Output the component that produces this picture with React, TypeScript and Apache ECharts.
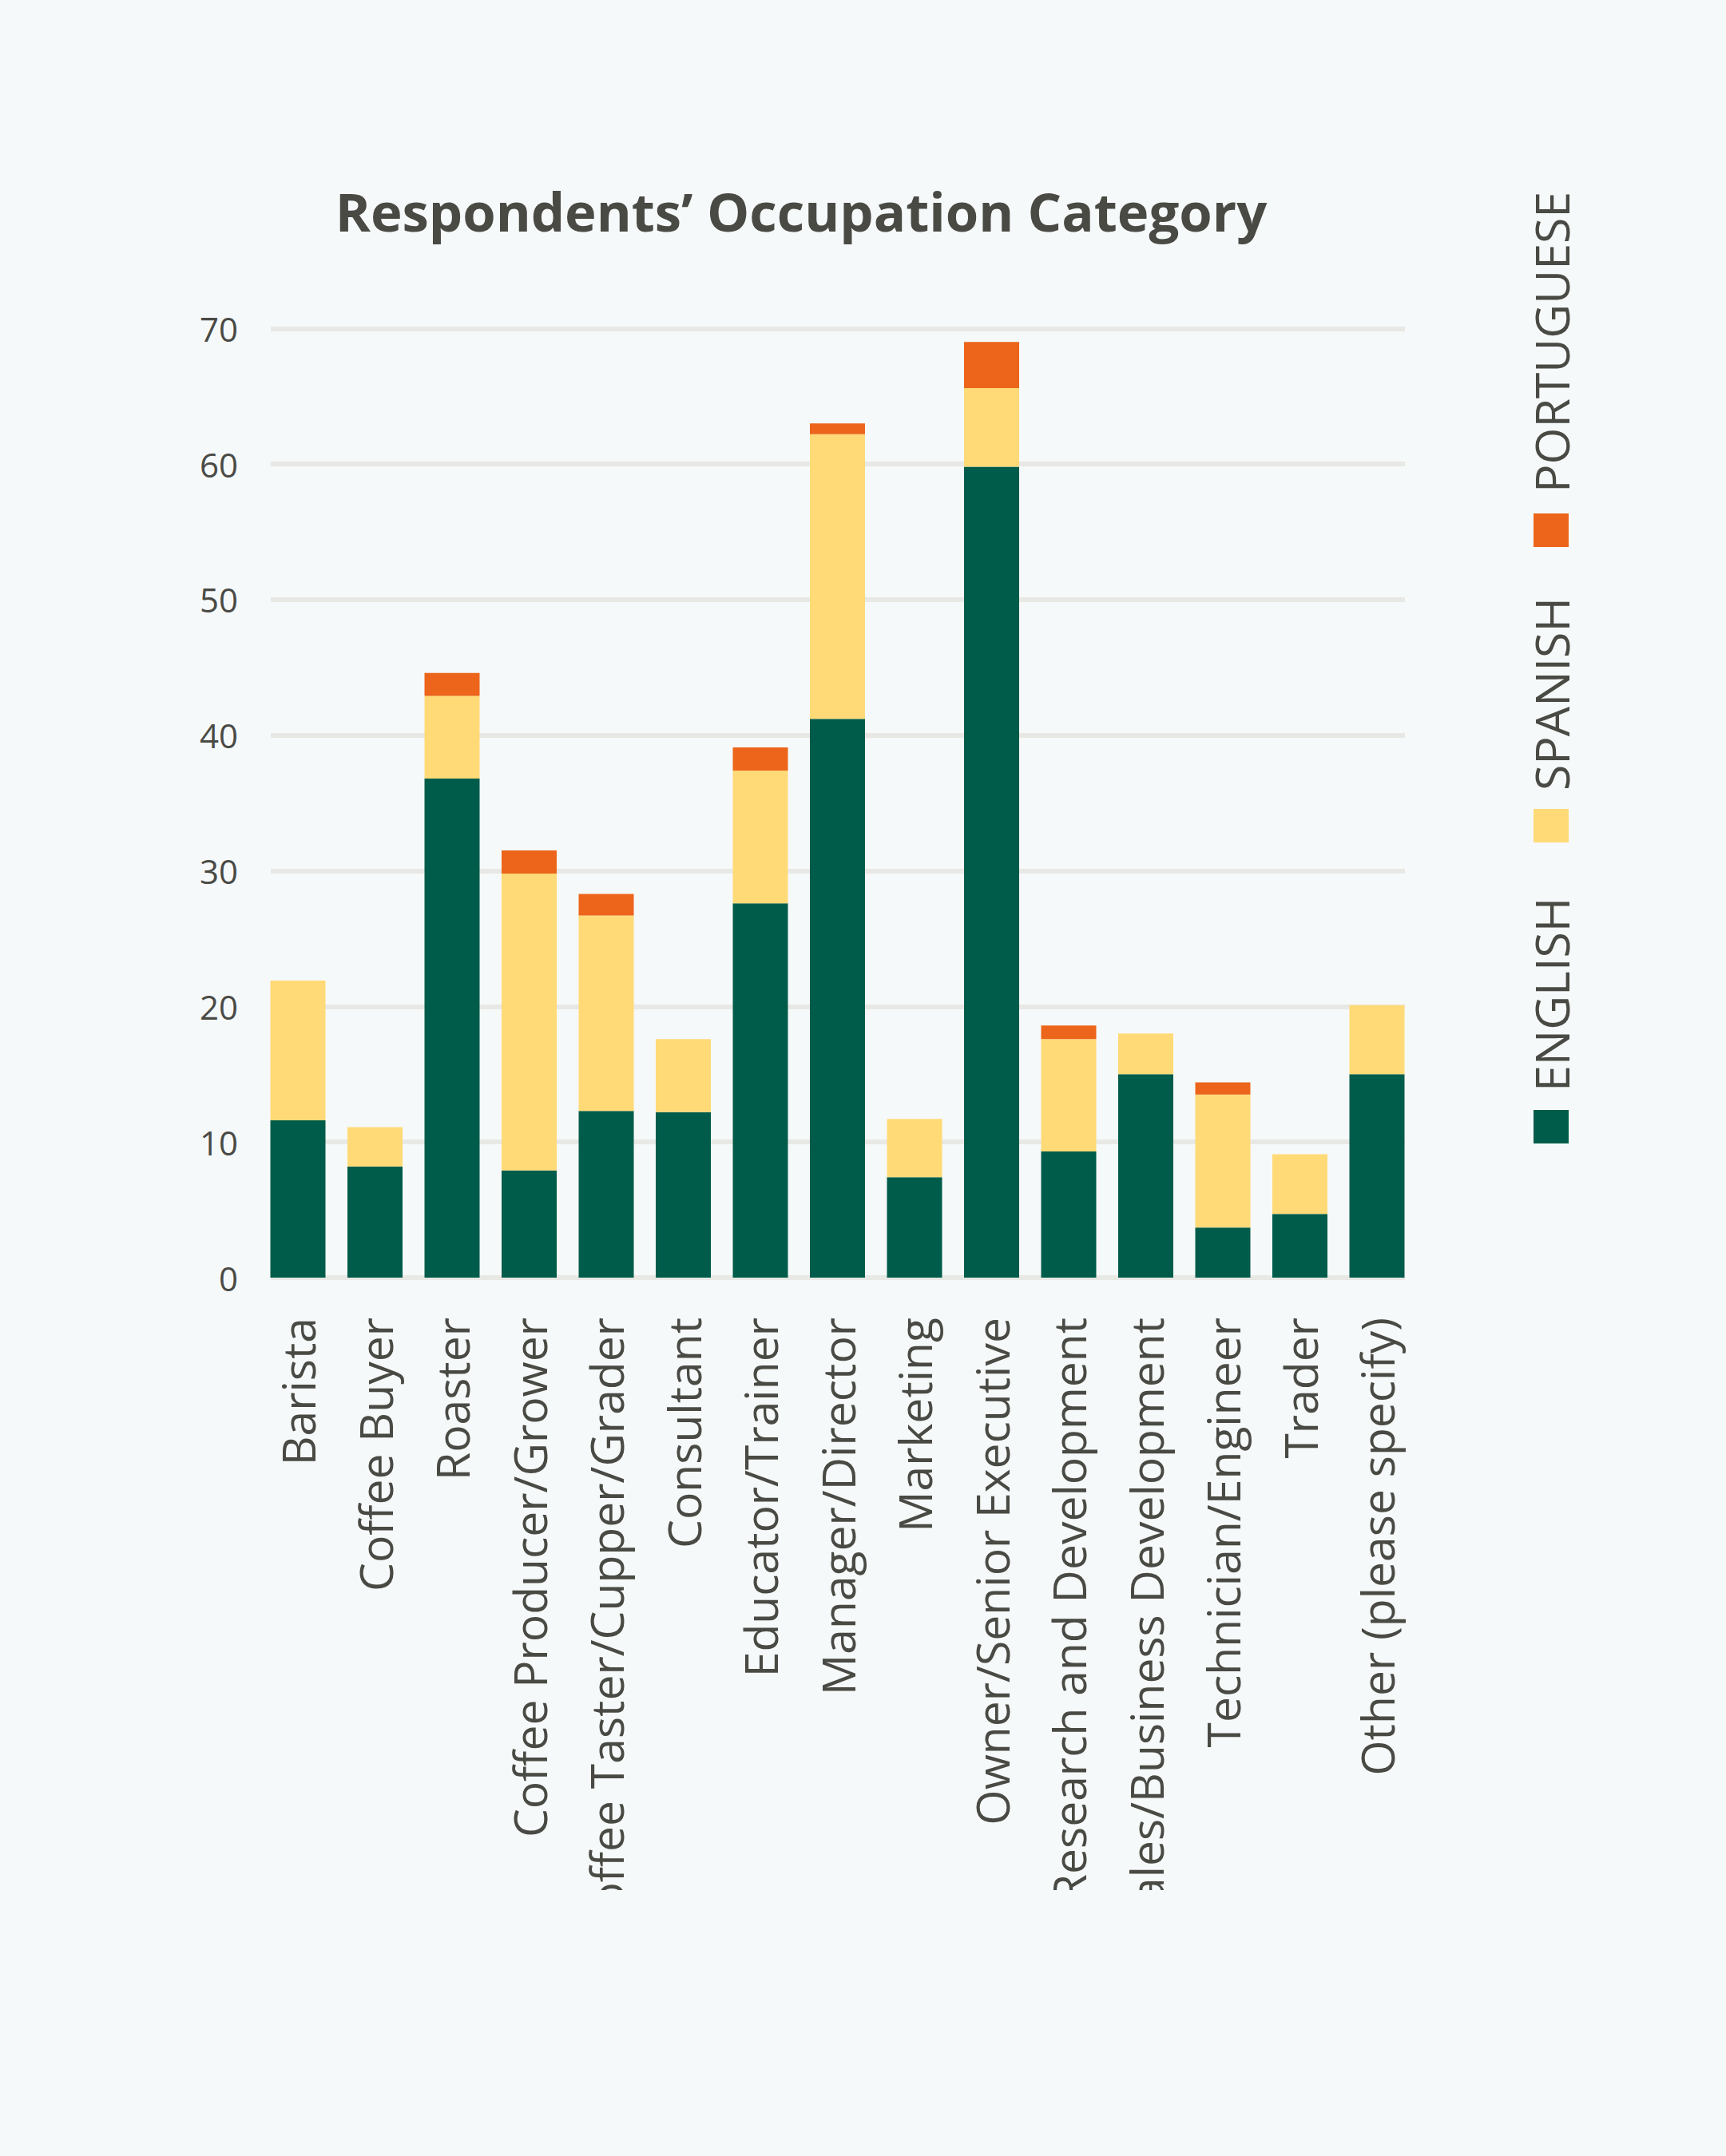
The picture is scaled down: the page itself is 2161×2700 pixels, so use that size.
import React, { useEffect, useRef } from "react";
import * as echarts from "echarts";

const categories = [
  "Barista",
  "Coffee Buyer",
  "Roaster",
  "Coffee Producer/Grower",
  "Coffee Taster/Cupper/Grader",
  "Consultant",
  "Educator/Trainer",
  "Manager/Director",
  "Marketing",
  "Owner/Senior Executive",
  "Research and Development",
  "Sales/Business Development",
  "Technician/Engineer",
  "Trader",
  "Other (please specify)",
];

const english = [11.6, 8.2, 36.8, 7.9, 12.3, 12.2, 27.6, 41.2, 7.4, 59.8, 9.3, 15.0, 3.7, 4.7, 15.0];
const spanish = [10.3, 2.9, 6.1, 21.9, 14.4, 5.4, 9.8, 21.0, 4.3, 5.8, 8.3, 3.0, 9.8, 4.4, 5.1];
const portuguese = [0, 0, 1.7, 1.7, 1.6, 0, 1.7, 0.8, 0, 3.4, 1.0, 0, 0.9, 0, 0];

const seriesNames = ["ENGLISH", "SPANISH", "PORTUGUESE"];
const seriesColors = ["#005c4a", "#ffda77", "#ec651b"];

const yMin = 0;
const yMax = 70;
const yInterval = 10;

const BG = "#f6f9f9";
const TEXT = "#4a4a45";
const FONT = "'Open Sans', sans-serif";

export default function App() {
  const ref = useRef<HTMLDivElement>(null);

  useEffect(() => {
    if (!ref.current) return;
    const chart = echarts.init(ref.current, null, { renderer: "svg" });

    const plotTop = 411.3;
    const plotBottom = 1600;
    const plotH = plotBottom - plotTop;

    // legend (rotated, reading bottom to top)
    const legendItems = [
      { name: seriesNames[0], color: seriesColors[0], swatchY: 1390, textY: 1367 },
      { name: seriesNames[1], color: seriesColors[1], swatchY: 1013, textY: 990 },
      { name: seriesNames[2], color: seriesColors[2], swatchY: 643, textY: 617 },
    ];
    const graphic: any[] = [];
    legendItems.forEach((it) => {
      graphic.push({
        type: "rect",
        shape: { x: 1920, y: it.swatchY, width: 44, height: 42 },
        style: { fill: it.color },
      });
      graphic.push({
        type: "text",
        x: 1942,
        y: it.textY,
        rotation: Math.PI / 2,
        style: {
          text: it.name,
          fill: TEXT,
          font: `400 59px ${FONT}`,
          textAlign: "left",
          textVerticalAlign: "middle",
        },
      });
    });

    const option: any = {
      animation: false,
      backgroundColor: BG,
      title: {
        text: "Respondents’ Occupation Category",
        left: 998,
        top: 225,
        textAlign: "center",
        textStyle: {
          fontFamily: FONT,
          fontWeight: 700,
          fontSize: 67,
          color: TEXT,
        },
      },
      grid: [
        {
          left: 324.75,
          width: 1447.5,
          top: plotTop,
          height: plotH,
          containLabel: false,
          outerBoundsMode: "none",
        },
        {
          left: 339,
          width: 1420,
          top: plotTop,
          height: plotH,
          containLabel: false,
          outerBoundsMode: "none",
        },
      ],
      xAxis: [
        {
          type: "category",
          gridIndex: 0,
          data: categories,
          boundaryGap: true,
          axisLine: { show: false },
          axisTick: { show: false },
          axisLabel: {
            rotate: 90,
            margin: 50,
            interval: 0,
            hideOverlap: false,
            fontFamily: FONT,
            fontSize: 57,
            color: TEXT,
          },
        },
        {
          type: "category",
          gridIndex: 1,
          data: categories,
          show: false,
        },
      ],
      yAxis: [
        {
          type: "value",
          gridIndex: 0,
          min: yMin,
          max: yMax,
          interval: yInterval,
          show: false,
          splitLine: { show: false },
        },
        {
          type: "value",
          gridIndex: 1,
          min: yMin,
          max: yMax,
          interval: yInterval,
          axisLine: { show: false },
          axisTick: { show: false },
          axisLabel: {
            margin: 41,
            fontFamily: FONT,
            fontSize: 42,
            color: TEXT,
          },
          splitLine: { show: true, lineStyle: { color: "#e8e8e5", width: 6 } },
        },
      ],
      series: [english, spanish, portuguese].map((d, i) => ({
        name: seriesNames[i],
        type: "bar",
        stack: "total",
        xAxisIndex: 0,
        yAxisIndex: 0,
        barWidth: 69,
        data: d,
        itemStyle: { color: seriesColors[i] },
      })),
      graphic,
    };

    chart.setOption(option);
    return () => chart.dispose();
  }, []);

  return (
    <div
      style={{
        position: "absolute",
        left: 0,
        top: 0,
        width: 2161,
        height: 2700,
        background: BG,
        overflow: "hidden",
      }}
    >
      <div ref={ref} style={{ width: 2161, height: 2367, overflow: "hidden" }} />
    </div>
  );
}
